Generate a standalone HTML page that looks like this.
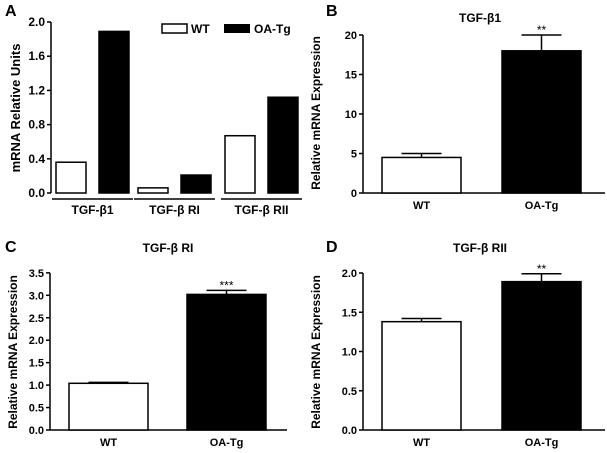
<!DOCTYPE html>
<html><head><meta charset="utf-8"><style>
body{margin:0;background:#fff}
svg{display:block;font-family:"Liberation Sans",Arial,sans-serif;font-weight:bold}
</style></head><body>
<svg id="fig" width="607" height="453" viewBox="0 0 607 453"></svg>
<script>
// Panel A data
const aGroups = ["TGF-β1","TGF-β RI","TGF-β RII"];
const aWT = [0.36, 0.06, 0.67];
const aOA = [1.89, 0.21, 1.12];
const aTicks = ["0.0","0.4","0.8","1.2","1.6","2.0"];
// Panel B data
const bCats = ["WT","OA-Tg"];
const bVals = [4.5, 18.0];
const bErr = [0.5, 2.0];
const bTicks = ["0","5","10","15","20"];
// Panel C data
const cVals = [1.04, 3.02];
const cErr = [0.02, 0.09];
const cTicks = ["0.0","0.5","1.0","1.5","2.0","2.5","3.0","3.5"];
// Panel D data
const dVals = [1.38, 1.89];
const dErr = [0.04, 0.10];
const dTicks = ["0.0","0.5","1.0","1.5","2.0"];

const NS="http://www.w3.org/2000/svg";
const svg=document.getElementById('fig');
function mk(tag,attrs,parent){const e=document.createElementNS(NS,tag);for(const k in attrs)e.setAttribute(k,attrs[k]);(parent||svg).appendChild(e);return e;}
function txt(s,attrs,parent){const e=mk('text',attrs,parent);e.textContent=s;return e;}

function yAxis(g,x,y0,ppu,ticks,fs){
  const top=y0-parseFloat(ticks[ticks.length-1])*ppu;
  const ax=mk('line',{x1:x,y1:y0,x2:x,y2:top,stroke:'#000','stroke-width':1.5},g);
  
  
  ticks.forEach(t=>{
    const y=y0-parseFloat(t)*ppu;
    mk('line',{x1:x-4,y1:y,x2:x,y2:y,stroke:'#000','stroke-width':1.5},g);
    const l=txt(t,{x:x-6,y:y+4,'text-anchor':'end','font-size':fs},g);
    
    
  });
}

// Panel A
(function(){
  const g=mk('g',{});
  
  
  const x0=51,y0=193,ppu=85.5;
  txt('A',{x:5,y:16,'font-size':16},g);
  yAxis(g,x0,y0,ppu,aTicks,12);
  const yl=txt('mRNA Relative Units',{x:0,y:0,'font-size':13,'text-anchor':'middle',transform:'translate(20,108) rotate(-90)'},g);
  
  
  const gx=[56,138,225], bw=30, gap=43;
  aGroups.forEach((name,i)=>{
    const hw=aWT[i]*ppu, ho=aOA[i]*ppu;
    const w=mk('rect',{x:gx[i],y:y0-hw,width:bw,height:hw,fill:'#fff',stroke:'#000','stroke-width':1.5},g);
    
    
    const o=mk('rect',{x:gx[i]+gap,y:y0-ho,width:bw,height:ho,fill:'#000',stroke:'#000','stroke-width':1.5},g);
    
    
    mk('line',{x1:gx[i]-4,y1:199,x2:gx[i]+gap+bw+4,y2:199,stroke:'#000','stroke-width':1.5},g);
    const l=txt(name,{x:gx[i]+(gap+bw)/2,y:214,'text-anchor':'middle','font-size':12},g);
    
    
  });
  const lg=mk('g',{},g);
  
  
  mk('rect',{x:162,y:24,width:25,height:9,fill:'#fff',stroke:'#000','stroke-width':1.5},lg);
  txt('WT',{x:191,y:33,'font-size':12},lg);
  mk('rect',{x:224,y:24,width:26,height:9,fill:'#000'},lg);
  txt('OA-Tg',{x:254,y:33,'font-size':12},lg);
})();

function panel(name,label,lx,ly,title,tx,ty,x0,y0,ppu,ticks,vals,errs,bars,xEnd,stars,ylx,yly){
  const g=mk('g',{});
  
  
  txt(label,{x:lx,y:ly,'font-size':16},g);
  const t=txt(title,{x:tx,y:ty,'text-anchor':'middle','font-size':12},g);
  
  
  yAxis(g,x0,y0,ppu,ticks,11);
  const xa=mk('line',{x1:x0,y1:y0,x2:xEnd,y2:y0,stroke:'#000','stroke-width':1.5},g);
  
  
  const yl=txt('Relative mRNA Expression',{x:0,y:0,'font-size':12,'text-anchor':'middle',transform:`translate(${ylx},${yly}) rotate(-90)`},g);
  
  
  bCats.forEach((c,i)=>{
    const bx=bars[i], bw=79, h=vals[i]*ppu, et=y0-(vals[i]+errs[i])*ppu;
    mk('line',{x1:bx+bw/2,y1:y0-h,x2:bx+bw/2,y2:et,stroke:'#000','stroke-width':1.5},g);
    mk('line',{x1:bx+bw/2-20,y1:et,x2:bx+bw/2+20,y2:et,stroke:'#000','stroke-width':1.5},g);
    const r=mk('rect',{x:bx,y:y0-h,width:bw,height:h,fill:i?'#000':'#fff',stroke:'#000','stroke-width':1.5},g);
    
    
    const l=txt(c,{x:bx+bw/2,y:y0+16,'text-anchor':'middle','font-size':11},g);
    
    
    if(i===1){const s=txt(stars,{x:bx+bw/2,y:et-1,'text-anchor':'middle','font-size':12,'font-weight':'normal'},g);
      
      }
  });
}
panel('b','B',326,16,'TGF-β1',480,22,363,193,7.9,bTicks,bVals,bErr,[382,502],605,'**',320,113);
panel('c','C',5,252,'TGF-β RI',168,252,50,430,44.9,cTicks,cVals,cErr,[69,187],287,'***',17,352);
panel('d','D',326,252,'TGF-β RII',480,252,363,430,78.5,dTicks,dVals,dErr,[382,502],605,'**',320,352);
</script>
</body></html>
